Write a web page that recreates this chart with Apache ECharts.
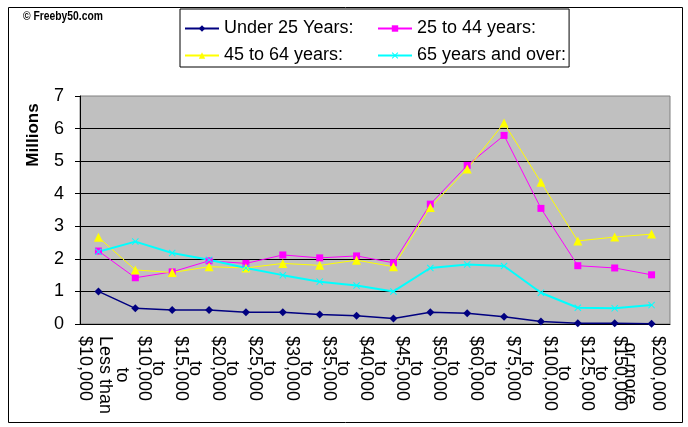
<!DOCTYPE html>
<html>
<head>
<meta charset="utf-8">
<script src="https://cdn.jsdelivr.net/npm/echarts@6.0.0/dist/echarts.min.js"></script>
<style>
  html, body { margin: 0; padding: 0; background: #fff; }
  #chart { width: 688px; height: 427px; }
</style>
</head>
<body>
<div id="chart"></div>
<script>
// income brackets (tick text as printed under each category)
const brackets = ['$10,000', '$10,000', '$15,000', '$20,000', '$25,000', '$30,000', '$35,000', '$40,000',
  '$45,000', '$50,000', '$60,000', '$75,000', '$100,000', '$125,000', '$150,000', '$200,000'];

const seriesNames = ['Under 25 Years:', '25 to 44 years:', '45 to 64 years:', '65 years and over:'];

// households, millions
const under25 = [1.0, 0.48, 0.43, 0.43, 0.36, 0.36, 0.29, 0.25, 0.17, 0.36, 0.33, 0.22, 0.08, 0.02, 0.02, 0.01];
const age25to44 = [2.24, 1.42, 1.6, 1.94, 1.86, 2.12, 2.03, 2.09, 1.88, 3.68, 4.87, 5.79, 3.55, 1.79, 1.72, 1.51];
const age45to64 = [2.66, 1.66, 1.58, 1.76, 1.72, 1.86, 1.8, 1.96, 1.76, 3.58, 4.76, 6.17, 4.35, 2.55, 2.67, 2.76];
const age65plus = [2.22, 2.53, 2.18, 1.97, 1.72, 1.5, 1.3, 1.18, 1.0, 1.72, 1.83, 1.78, 0.96, 0.5, 0.48, 0.58];

const FONT = '"Liberation Sans", Arial, sans-serif';
const xMark = 'path://M1,0 L5,4 L9,0 L10,1 L6,5 L10,9 L9,10 L5,6 L1,10 L0,9 L4,5 L0,1 Z';

// excel-ish stacked labels: "to" sits beside each amount
function tickLabel(value, idx) {
  if (idx === 0) return '{t|to}\n{w|Less than}\n{w|' + value + '}\n{s1| }';
  if (idx === brackets.length - 2) return '{m|or more}\n{n|' + value + '}\n{s3| }';
  if (idx === brackets.length - 1) return '{v|' + value + '}\n{s4| }';
  return '{t|to}\n{v|' + value + '}\n{s2| }';
}

const txt = { fontSize: 18, fontFamily: FONT, color: '#000' };

const chart = echarts.init(document.getElementById('chart'), null, { renderer: 'canvas' });

chart.setOption({
  backgroundColor: '#fff',
  animation: false,
  grid: {
    left: 80, right: 18, top: 96, bottom: 103,
    show: true, backgroundColor: '#C0C0C0', borderColor: '#808080', borderWidth: 1
  },
  legend: {
    left: 180, top: 9, width: 385,
    padding: [9, 3, 1, 4],
    itemWidth: 34, itemHeight: 8, itemGap: 6,
    borderColor: '#000', borderWidth: 1,
    textStyle: { fontSize: 18, fontFamily: FONT, color: '#000', width: 147, lineHeight: 21 },
    data: seriesNames
  },
  xAxis: {
    type: 'category',
    data: brackets,
    boundaryGap: true,
    axisLine: { lineStyle: { color: '#000', width: 1 } },
    axisTick: { interval: 0, length: 5, lineStyle: { color: '#000' } },
    axisLabel: {
      interval: 0, rotate: -90, margin: 12,
      fontSize: 18, fontFamily: FONT, color: '#000',
      formatter: tickLabel,
      rich: {
        t: Object.assign({ align: 'center', lineHeight: 14 }, txt),
        v: Object.assign({ align: 'left', lineHeight: 14 }, txt),
        w: Object.assign({ align: 'left', lineHeight: 20 }, txt),
        m: Object.assign({ align: 'center', lineHeight: 10 }, txt),
        n: Object.assign({ align: 'left', lineHeight: 10 }, txt),
        s1: Object.assign({ lineHeight: 8 }, txt),
        s2: Object.assign({ lineHeight: 32 }, txt),
        s3: Object.assign({ lineHeight: 20 }, txt),
        s4: Object.assign({ lineHeight: 12 }, txt)
      }
    },
    splitLine: { show: false }
  },
  yAxis: {
    type: 'value',
    min: 0, max: 7, interval: 1,
    axisLine: { show: true, lineStyle: { color: '#000' } },
    axisTick: { show: true, length: 5, lineStyle: { color: '#000' } },
    axisLabel: { fontSize: 18, fontFamily: FONT, color: '#000', margin: 16 },
    splitLine: { show: true, showMaxLine: false, lineStyle: { color: '#000', width: 1 } }
  },
  series: [
    {
      name: seriesNames[0], type: 'line', data: under25,
      symbol: 'diamond', symbolSize: 8,
      itemStyle: { color: '#000080' }, lineStyle: { color: '#000080', width: 1.5 }
    },
    {
      name: seriesNames[1], type: 'line', data: age25to44,
      symbol: 'rect', symbolSize: 7,
      itemStyle: { color: '#FF00FF' }, lineStyle: { color: '#FF00FF', width: 1 }
    },
    {
      name: seriesNames[2], type: 'line', data: age45to64,
      symbol: 'triangle', symbolSize: 9,
      itemStyle: { color: '#FFFF00' }, lineStyle: { color: '#FFFF00', width: 1 }
    },
    {
      name: seriesNames[3], type: 'line', data: age65plus,
      symbol: xMark, symbolSize: 7,
      itemStyle: { color: '#00FFFF' }, lineStyle: { color: '#00FFFF', width: 2 }
    }
  ],
  graphic: [
    {
      type: 'rect', left: 6, top: 5, z: -1,
      shape: { width: 674, height: 415 },
      style: { fill: 'none', stroke: '#000', lineWidth: 1 }
    },
    {
      // narrow-ish bold credit line
      type: 'text', x: 23, y: 11, scaleX: 0.86,
      style: { text: '\u00A9 Freeby50.com', font: 'bold 12px ' + FONT, fill: '#000' }
    },
    {
      type: 'text', x: 33, y: 135, rotation: Math.PI / 2,
      style: {
        text: 'Millions', font: 'bold 17px ' + FONT, fill: '#000',
        align: 'center', verticalAlign: 'middle'
      }
    }
  ]
});
</script>
</body>
</html>
